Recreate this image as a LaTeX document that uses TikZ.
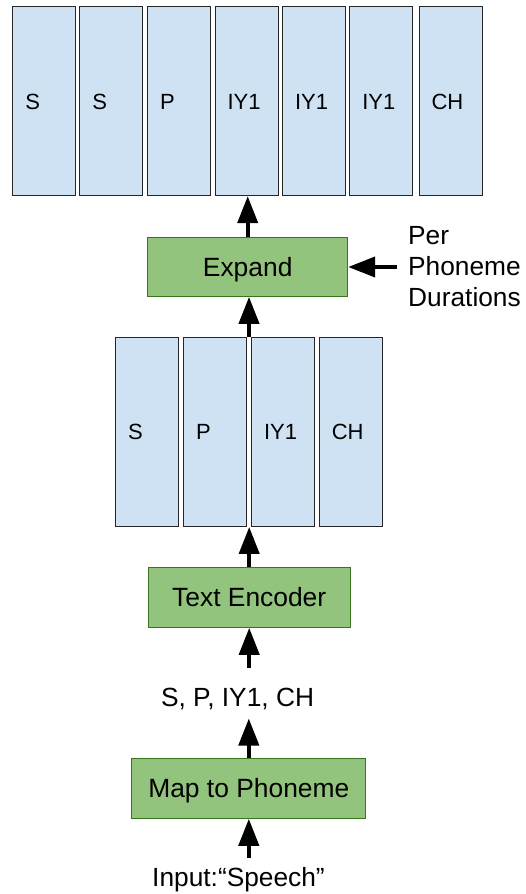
\documentclass[tikz,border=0pt]{standalone}
\usepackage{fontspec}
\setmainfont{Liberation Sans}
\usetikzlibrary{arrows.meta,calc}
\definecolor{tokblue}{HTML}{CFE2F3}
\definecolor{procgreen}{HTML}{93C47D}
\definecolor{procborder}{HTML}{38761D}
\tikzset{
  tok/.style={draw=black!85, fill=tokblue, line width=0.9pt, minimum height=189pt,
    text width=38pt, inner xsep=12.5pt, align=left,
    font=\fontsize{22}{25}\selectfont, text height=15.75pt, text depth=0pt},
  proc/.style={draw=procborder, fill=procgreen, line width=1pt,
    font=\fontsize{26.4}{30}\selectfont, inner sep=0pt, text height=18.9pt, text depth=0pt},
  arr/.style={-{Triangle[width=20pt,length=27pt]}, line width=4pt},
  lbl/.style={font=\fontsize{26.3}{31}\selectfont}
}
\begin{document}
\begin{tikzpicture}[x=1pt,y=-1pt]
\useasboundingbox (0,0) rectangle (526,894);
% top row
\node[tok] (t1) at (44.3,101.2) {S};
\node[tok] (t2) at (111.3,101.2) {S};
\node[tok] (t3) at (179,101.2) {P};
\node[tok] (t4) at (246.5,101.2) {IY1};
\node[tok] (t5) at (314,101.2) {IY1};
\node[tok] (t6) at (381.3,101.2) {IY1};
\node[tok] (t7) at (450.5,101.2) {CH};
% middle row
\node[tok] (m1) at (147.2,432) {S};
\node[tok] (m2) at (215,432) {P};
\node[tok] (m3) at (283,432) {IY1};
\node[tok] (m4) at (350.8,432) {CH};
% process boxes
\node[proc, minimum width=200pt, minimum height=59.3pt] (expand) at (247.7,266.7) {Expand};
\node[proc, minimum width=201.7pt, minimum height=60pt] (enc) at (249.2,597.3) {Text Encoder};
\node[proc, minimum width=234.3pt, minimum height=60pt] (map) at (248.8,788.3) {Map to Phoneme};
% labels
\node[lbl, anchor=base, text height=32pt, text depth=5pt, inner ysep=6.6pt] (sp) at (237.5,706.7) {S, P, IY1, CH};
\node[lbl, anchor=base, text height=18pt, text depth=5pt, inner ysep=10.7pt] (inp) at (238.5,886.7) {Input:“Speech”};
\node[lbl, align=left, anchor=west, inner xsep=11pt] (per) at (397,267) {Per\\Phoneme\\Durations};
% connectors
\coordinate (gap) at ($(m2.north east)!0.5!(m3.north west)$);
\draw[arr] (expand.north) -- (expand.north |- t4.south);
\draw[arr] (gap) -- (gap |- expand.south);
\draw[arr] (enc.north) -- (enc.north |- m2.south);
\draw[arr] (sp.north -| enc.south) -- (enc.south);
\draw[arr] (map.north) -- (map.north |- sp.south);
\draw[arr] (inp.north -| map.south) -- (map.south);
\draw[arr] (per.west) -- (per.west -| expand.east);
\end{tikzpicture}
\end{document}
